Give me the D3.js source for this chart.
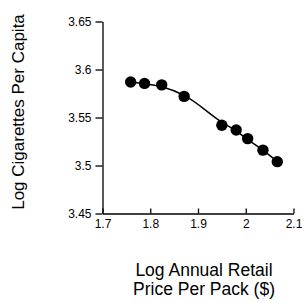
<!DOCTYPE html>
<html><head><meta charset="utf-8">
<script src="https://cdn.jsdelivr.net/npm/d3@7/dist/d3.min.js"></script>
<style>body{margin:0;background:#fff}svg{display:block}text{font-family:"Liberation Sans",Arial,sans-serif}</style>
</head><body>
<svg id="c" width="302" height="301"></svg>
<script>
const logPrice = [1.759, 1.788, 1.824, 1.871, 1.950, 1.980, 2.004, 2.036, 2.066];
const logCigs  = [3.587, 3.5855, 3.584, 3.572, 3.542, 3.537, 3.528, 3.516, 3.504];
const fitCigs  = [3.587, 3.585, 3.582, 3.573, 3.545, 3.536, 3.527, 3.516, 3.504];
const xTicks = [1.7, 1.8, 1.9, 2, 2.1];
const yTicks = [3.45, 3.5, 3.55, 3.6, 3.65];

const svg = d3.select("#c");
const x = d3.scaleLinear().domain([1.7, 2.1]).range([102.5, 293.5]);
const y = d3.scaleLinear().domain([3.45, 3.65]).range([213.5, 21.5]);

const ya = svg.append("g").attr("transform","translate(102.5,0)")
  .call(d3.axisLeft(y).tickValues(yTicks).tickFormat(d3.format("")).tickSize(7).tickSizeOuter(0).tickPadding(4));
const xa = svg.append("g").attr("transform","translate(0,213.5)")
  .call(d3.axisBottom(x).tickValues(xTicks).tickFormat(d3.format("")).tickSize(-5).tickSizeOuter(0).tickPadding(6));
[ya, xa].forEach(g => {
  g.selectAll("path,line").attr("stroke","#000").attr("stroke-width",1.3);
  g.selectAll("text").attr("font-size",12).attr("fill","#000").attr("font-family","Liberation Sans, Arial, sans-serif");
});

const pts = logPrice.map((d,i)=>({x:d, y:logCigs[i], f:fitCigs[i]}));
svg.append("path").datum(pts)
  .attr("d", d3.line().x(d=>x(d.x)).y(d=>y(d.f)).curve(d3.curveMonotoneX))
  .attr("fill","none").attr("stroke","#000").attr("stroke-width",1.5);
svg.selectAll("circle").data(pts).enter().append("circle")
  .attr("cx", d=>x(d.x)).attr("cy", d=>y(d.y)).attr("r",5.7).attr("fill","#000");

svg.append("text").attr("transform","translate(24,112) rotate(-90)")
  .attr("text-anchor","middle").attr("font-size",17).text("Log Cigarettes Per Capita");
svg.append("text").attr("x",204).attr("y",276).attr("text-anchor","middle").attr("font-size",17.5).text("Log Annual Retail");
svg.append("text").attr("x",204).attr("y",295).attr("text-anchor","middle").attr("font-size",17.5).text("Price Per Pack ($)");
</script>
</body></html>
